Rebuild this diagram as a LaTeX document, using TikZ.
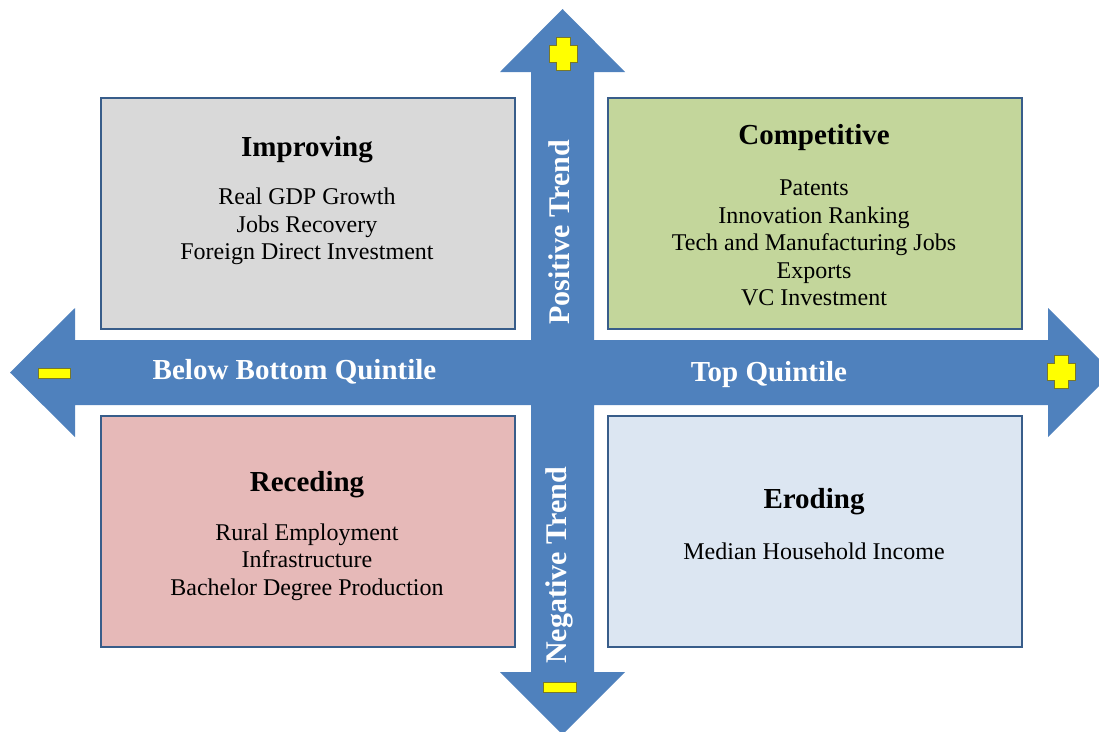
\documentclass[tikz,border=0pt]{standalone}
\usepackage{fontspec}
\setmainfont{Liberation Serif}
\definecolor{axisblue}{RGB}{79,129,189}
\definecolor{frameblue}{RGB}{56,93,138}
\definecolor{improvefill}{RGB}{217,217,217}
\definecolor{competefill}{RGB}{195,214,155}
\definecolor{recedefill}{RGB}{230,185,184}
\definecolor{erodefill}{RGB}{220,230,242}
\definecolor{markfill}{RGB}{255,255,0}
\definecolor{markline}{RGB}{120,120,40}
\tikzset{
  quadbox/.style={draw=frameblue, line width=1.6pt, minimum width=414pt, minimum height=231pt, inner sep=0pt, anchor=north west},
  quadtitle/.style={font=\bfseries\fontsize{29}{33}\selectfont, inner sep=0pt},
  quadbody/.style={font=\fontsize{24}{27.6}\selectfont, align=center, inner sep=0pt},
  axislabel/.style={font=\bfseries\fontsize{29}{33}\selectfont, text=white, inner sep=0pt},
  signmark/.style={fill=markfill, draw=markline, line width=0.5pt},
  plusmark/.pic={
    \path[signmark] (-7,-16.5) -- (7,-16.5) -- (7,-8.5) -- (14,-8.5) -- (14,8.5) -- (7,8.5)
      -- (7,16.5) -- (-7,16.5) -- (-7,8.5) -- (-14,8.5) -- (-14,-8.5) -- (-7,-8.5) -- cycle;
  }
}
\begin{document}
\begin{tikzpicture}[x=1pt, y=-1pt]
\useasboundingbox (0,0) rectangle (1099,731);
\clip (0,0) rectangle (1099,731);

% the two crossing double-headed axes as one outline
\fill[axisblue] (562.5,9) -- (625,72) -- (594,72) -- (594,340) -- (1048,340) -- (1048,308)
  -- (1112.5,372.5) -- (1048,437) -- (1048,405) -- (594,405) -- (594,672) -- (625,672)
  -- (562.5,734.5) -- (500,672) -- (531,672) -- (531,405) -- (75,405) -- (75,437)
  -- (10,372.5) -- (75,308) -- (75,340) -- (531,340) -- (531,72) -- (500,72) -- cycle;

% plus and minus marks on the arrow heads
\path (563,53.5) pic {plusmark};
\path (1061.5,371.5) pic {plusmark};
\node[signmark, minimum width=32pt, minimum height=10pt, inner sep=0pt] (minusleft) at (54,373) {};
\node[signmark, minimum width=33pt, minimum height=10pt, inner sep=0pt] (minusdown) at (559.5,687) {};

% quadrants
\node[quadbox, fill=improvefill] (improving) at (100,97) {};
\node[quadbox, fill=competefill] (competitive) at (607,97) {};
\node[quadbox, fill=recedefill] (receding) at (100,415) {};
\node[quadbox, fill=erodefill] (eroding) at (607,415) {};

\node[quadtitle] (improvingtitle) at (307,149.5) {Improving};
\node[quadbody] (improvingbody) at (307,226.5) {Real GDP Growth\\Jobs Recovery\\Foreign Direct Investment};

\node[quadtitle] (competitivetitle) at (814,137.5) {Competitive};
\node[quadbody] (competitivebody) at (814,243) {Patents\\Innovation Ranking\\Tech and Manufacturing Jobs\\Exports\\VC Investment};

\node[quadtitle] (recedingtitle) at (307,484.5) {Receding};
\node[quadbody] (recedingbody) at (307,562) {Rural Employment\\Infrastructure\\Bachelor Degree Production};

\node[quadtitle] (erodingtitle) at (814,501.5) {Eroding};
\node[quadbody] (erodingbody) at (814,551) {Median Household Income};

% axis labels
\node[axislabel] (lefttext) at (294.5,371.5) {Below Bottom Quintile};
\node[axislabel] (righttext) at (769,374.5) {Top Quintile};
\node[axislabel, rotate=90, font=\bfseries\fontsize{30}{34}\selectfont] (uptext) at (559,232.5) {Positive Trend};
\node[axislabel, rotate=90, font=\bfseries\fontsize{30}{34}\selectfont] (downtext) at (559,565.5) {Negative Trend};
\end{tikzpicture}
\end{document}
